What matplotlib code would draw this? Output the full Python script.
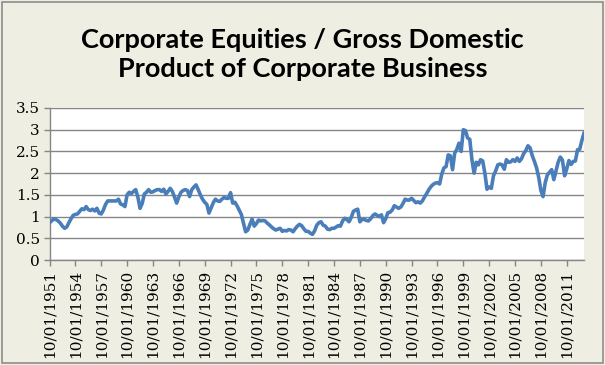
import matplotlib
matplotlib.use("Agg")
import matplotlib.pyplot as plt
from matplotlib.patches import Rectangle

# quarterly ratio, 10/01/1951 .. 10/01/2013
first_year = 1951
ratio = [
    0.86,
    0.90, 0.95, 0.93, 0.90,  # 1952
    0.85, 0.78, 0.73, 0.76,
    0.86, 0.95, 1.03, 1.05,
    1.06, 1.12, 1.18, 1.16,
    1.23, 1.16, 1.14, 1.17,  # 1956
    1.13, 1.19, 1.08, 1.06,
    1.15, 1.28, 1.36, 1.36,
    1.36, 1.36, 1.36, 1.40,
    1.29, 1.27, 1.23, 1.50,  # 1960
    1.56, 1.53, 1.58, 1.62,
    1.45, 1.19, 1.30, 1.52,
    1.56, 1.62, 1.56, 1.57,
    1.60, 1.62, 1.62, 1.58,  # 1964
    1.63, 1.52, 1.58, 1.65,
    1.58, 1.45, 1.31, 1.45,
    1.56, 1.60, 1.62, 1.60,
    1.46, 1.62, 1.68, 1.73,  # 1968
    1.62, 1.50, 1.40, 1.33,
    1.28, 1.08, 1.20, 1.32,
    1.40, 1.36, 1.35, 1.40,
    1.44, 1.42, 1.42, 1.55,  # 1972
    1.31, 1.33, 1.25, 1.15,
    1.05, 0.85, 0.65, 0.69,
    0.82, 0.94, 0.78, 0.84,
    0.92, 0.90, 0.91, 0.90,  # 1976
    0.85, 0.81, 0.76, 0.72,
    0.69, 0.71, 0.73, 0.66,
    0.68, 0.67, 0.70, 0.69,
    0.65, 0.72, 0.78, 0.82,  # 1980
    0.79, 0.72, 0.66, 0.66,
    0.62, 0.59, 0.67, 0.80,
    0.86, 0.88, 0.80, 0.78,
    0.71, 0.70, 0.73, 0.73,  # 1984
    0.76, 0.79, 0.78, 0.90,
    0.96, 0.93, 0.88, 0.98,
    1.12, 1.15, 1.17, 0.88,
    0.93, 0.94, 0.91, 0.90,  # 1988
    0.95, 1.02, 1.06, 1.03,
    1.00, 1.04, 0.86, 0.95,
    1.09, 1.10, 1.15, 1.25,
    1.22, 1.19, 1.22, 1.30,  # 1992
    1.40, 1.38, 1.38, 1.42,
    1.37, 1.32, 1.34, 1.31,
    1.36, 1.45, 1.53, 1.62,
    1.69, 1.74, 1.77, 1.78,  # 1996
    1.75, 1.98, 2.12, 2.15,
    2.42, 2.40, 2.08, 2.46,
    2.55, 2.69, 2.50, 3.00,
    2.98, 2.81, 2.78, 2.31,  # 2000
    2.00, 2.25, 2.19, 2.31,
    2.28, 2.00, 1.63, 1.68,
    1.65, 1.94, 2.05, 2.19,
    2.21, 2.19, 2.09, 2.31,  # 2004
    2.25, 2.26, 2.31, 2.27,
    2.35, 2.27, 2.33, 2.45,
    2.52, 2.63, 2.58, 2.40,
    2.27, 2.12, 1.90, 1.60,  # 2008
    1.46, 1.78, 1.96, 2.02,
    2.08, 1.85, 2.05, 2.25,
    2.37, 2.30, 1.94, 2.10,
    2.29, 2.20, 2.27, 2.28,  # 2012
    2.54, 2.55, 2.75, 2.92,
]

months = ["01", "04", "07", "10"]
dates = []
for i in range(len(ratio)):
    k = i + 3
    dates.append(f"{months[k % 4]}/01/{first_year + k // 4}")

title = "Corporate Equities / Gross Domestic\nProduct of Corporate Business"
y_ticks = [0, 0.5, 1, 1.5, 2, 2.5, 3, 3.5]
label_step = 12

bg = "#EEEEE2"
grid_col = "#868686"

fig = plt.figure(figsize=(6.05, 3.65), dpi=100, facecolor=bg)
fig.patches.append(Rectangle((0.004, 0.006), 0.992, 0.988, transform=fig.transFigure,
                             fill=False, edgecolor="#8C8C8C", linewidth=1.2))

ax = fig.add_axes([49.5 / 605, 1 - 260 / 365, (584 - 49.5) / 605, (260 - 108) / 365])
ax.set_facecolor("white")

x = list(range(len(ratio)))
ax.plot(x, ratio, color="#4A7EBB", linewidth=2.6, solid_joinstyle="round", zorder=3)

ax.set_xlim(0, len(ratio) - 1)
ax.set_ylim(0, 3.5)
ax.set_yticks(y_ticks)
ax.set_yticklabels([f"{v:g}" for v in y_ticks])
ax.yaxis.grid(True, color=grid_col, linewidth=1.0)
ax.set_axisbelow(True)

tick_pos = list(range(0, len(ratio), label_step))
ax.set_xticks(tick_pos)
ax.set_xticklabels([dates[i] for i in tick_pos], rotation=90)

for side in ("top", "right"):
    ax.spines[side].set_visible(False)
for side in ("left", "bottom"):
    ax.spines[side].set_color(grid_col)
    ax.spines[side].set_linewidth(1.0)

ax.tick_params(axis="both", direction="out", length=4, color=grid_col, width=1.0,
               labelsize=11, pad=3)
for lab in ax.get_xticklabels() + ax.get_yticklabels():
    lab.set_fontfamily("DejaVu Serif")

fig.text(0.5, 0.85, title, ha="center", va="center", fontsize=19.5,
         fontfamily="Lato", fontweight="bold", linespacing=1.25)

fig.savefig("out.png", dpi=100, facecolor=bg)
